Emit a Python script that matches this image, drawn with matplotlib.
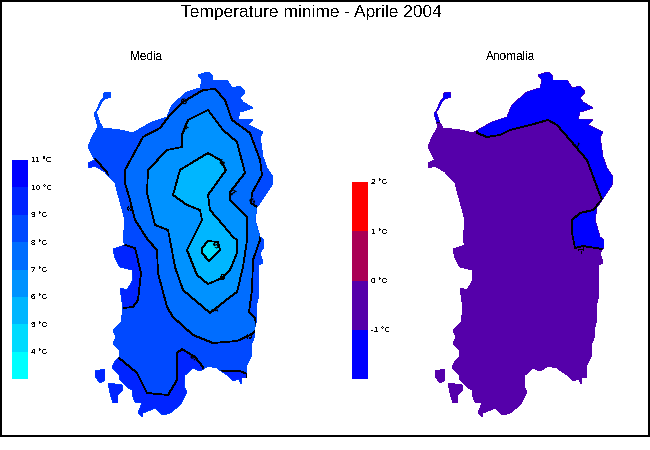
# Temperature minime - Aprile 2004, mappe della Sardegna
import matplotlib
matplotlib.use("Agg")
import matplotlib.pyplot as plt
from matplotlib.patches import PathPatch, Polygon
from matplotlib.path import Path

plt.rcParams['font.family'] = ['Liberation Sans', 'DejaVu Sans']
plt.rcParams['text.antialiased'] = False

# ---------- contorno dell'isola (pixel della mappa di sinistra) ----------
sardegna = [(198,75),(208,72),(212,75),(213,80),(227,80),(232,88),(240,86),(245,92),(240,98),(243,102),
            (253,108),(240,112),(238,119),(253,120),(248,125),(263,132),(260,137),(263,157),(267,168),(273,177),
            (272,185),(262,200),(257,207),(255,220),(260,237),(264,240),(264,247),(260,253),(263,263),(259,265),
            (259,295),(257,303),(257,318),(255,327),(255,335),(252,343),(252,355),(247,365),(247,378),(242,378),
            (241,384),(239,379),(233,381),(227,375),(217,368),(208,366),(200,371),(193,368),(185,375),(184,387),
            (187,392),(180,405),(170,413),(163,415),(155,408),(143,413),(143,417),(138,413),(142,403),(135,402),
            (133,397),(132,390),(127,387),(120,380),(119,375),(112,367),(116,360),(119,357),(119,350),(113,344),
            (116,337),(113,330),(121,322),(123,308),(120,288),(127,290),(133,280),(132,270),(120,267),(115,258),
            (113,249),(125,245),(123,240),(125,220),(115,183),(105,172),(95,166),(89,168),(88,163),(95,160),
            (88,147),(92,137),(98,127),(94,113),(98,110),(102,102),(105,99),(111,97),(110,92),(104,93),
            (103,98),(100,102),(96,112),(100,123),(103,128),(120,130),(133,133),(152,122),(167,117),(172,105),
            (187,92),(200,88),(202,80)]
san_pietro = [(95,371),(105,369),(105,380),(100,383),(95,376)]
sant_antioco = [(108,383),(122,385),(123,390),(118,395),(118,403),(113,403),(110,393)]

# ---------- media: isolinee ----------
iso_9_sud = [(118,357),(137,373),(147,393),(168,395),(177,380),(177,353),(182,349),(195,357),(203,367),
             (203,440),(85,440),(85,357)]
iso_9_ovest = [(125,245),(135,248),(141,273),(138,300),(133,307),(123,308),(100,308),(100,245)]
iso_9_nordovest = [(85,159),(95,159),(107,172),(110,185),(85,185)]
iso_9_sudest = [(220,371),(240,371),(247,374),(250,400),(215,400)]
iso_8 = [(125,170),(143,137),(160,128),(170,115),(183,102),(203,90),(215,89),(225,100),(232,120),(250,133),
         (260,160),(262,175),(252,193),(251,203),(257,207),(270,220),(260,237),(260,240),(253,260),(252,290),
         (249,312),(255,318),(257,330),(250,335),(237,341),(213,343),(193,335),(173,317),(167,307),(158,273),
         (157,250),(148,240),(135,220),(130,200),(125,183)]
iso_7 = [(182,135),(188,120),(208,110),(223,130),(237,142),(245,173),(230,192),(230,200),(247,217),(247,240),
         (243,267),(237,292),(230,297),(210,313),(183,290),(175,267),(170,240),(168,230),(155,225),(147,193),
         (148,170),(167,150),(182,147)]
iso_6 = [(208,153),(220,160),(226,170),(208,195),(210,210),(223,225),(233,237),(237,240),(237,253),(230,270),
         (222,278),(208,284),(197,275),(187,250),(192,240),(202,220),(200,210),(187,205),(173,195),(180,170),
         (193,162)]
iso_5 = [(202,248),(208,241),(218,242),(220,250),(209,261),(202,253)]

colori_media = ['#00FFFF','#00DBFF','#00B6FF','#0092FF','#006DFF','#0049FF','#0024FF','#0000FF']
livelli_media = [3, 4, 5, 6, 7, 8, 9, 10, 11]
etichette_media = [('8',185,101,45),('7',184,129,-30),('6',222,163,20),('7',232,193,-30),('8',253,202,30),
                   ('8',131,207,90),('5',217,246,30),('6',222,278,0),('7',213,309,-70),('8',250,335,90),('9',194,357,40)]

# ---------- anomalia: isolinee ----------
ano_nord = [(137,133),(147,137),(160,135),(170,130),(190,125),(208,120),(217,125),(230,140),(247,160),(257,187),
            (262,200),(253,210),(240,213),(232,220),(232,233),(235,248),(243,246),(262,249),(290,249),(290,50),(137,50)]
ano_asinara = [(85,85),(115,85),(115,122),(85,122)]
colori_anomalia = ['#0000FF','#5500AA','#AA0055','#FF0000']
livelli_anomalia = [-2, -1, 0, 1, 2]
etichette_anomalia = [('-1',236,146,-30),('-1',242,249,90)]


def disegna_mappa(sx, alto, base, zone, etichette):
    # sx, alto: pixel dell'angolo in alto a sinistra della finestra 200x380
    ax = fig.add_axes([sx/650, 1-(alto+380)/450, 200/650, 380/450])
    ax.set_xlim(80, 280)
    ax.set_ylim(440, 60)
    ax.axis('off')

    vertici = []
    codici = []
    for pezzo in [sardegna, san_pietro, sant_antioco]:
        vertici += pezzo + [pezzo[0]]
        codici += [Path.MOVETO] + [Path.LINETO]*(len(pezzo)-1) + [Path.CLOSEPOLY]
    isola = PathPatch(Path(vertici, codici), facecolor=base, edgecolor='none', antialiased=False)
    ax.add_patch(isola)

    for punti, colore in zone:
        p = Polygon(punti, closed=True, facecolor=colore, edgecolor='black', linewidth=0.55, antialiased=False)
        ax.add_patch(p)
        p.set_clip_path(isola)

    for testo, x, y, rot in etichette:
        ax.text(x, y, testo, fontsize=6.5, fontweight='bold', rotation=rot, ha='center', va='center',
                color='black', clip_on=False, zorder=5)
    return ax


def disegna_scala(rect, livelli, colori):
    ax = fig.add_axes([rect[0]/650, 1-rect[3]/450, (rect[2]-rect[0])/650, (rect[3]-rect[1])/450])
    for i in range(len(colori)):
        ax.bar(0, livelli[i+1]-livelli[i], bottom=livelli[i], width=1, color=colori[i], linewidth=0, antialiased=False)
    ax.set_xlim(-0.5, 0.5)
    ax.set_ylim(livelli[0], livelli[-1])
    ax.set_xticks([])
    ax.set_yticks(livelli[1:])
    ax.set_yticklabels(["%d °C" % v for v in livelli[1:]], fontsize=6)
    ax.yaxis.tick_right()
    ax.tick_params(axis='y', length=0, pad=2)
    for lato in ax.spines.values():
        lato.set_visible(False)
    return ax


fig = plt.figure(figsize=(6.5, 4.5), dpi=100, facecolor='white')

# cornice esterna
fig.add_artist(plt.Rectangle((0.5/650, 1-436/450), 648.5/650, 435.5/450, transform=fig.transFigure,
                             fill=False, edgecolor='black', linewidth=1.1, antialiased=False))

disegna_mappa(80, 60, colori_media[5],
              [(iso_9_sud, colori_media[6]), (iso_9_ovest, colori_media[6]), (iso_9_nordovest, colori_media[6]),
               (iso_9_sudest, colori_media[6]), (iso_8, colori_media[4]), (iso_7, colori_media[3]),
               (iso_6, colori_media[2]), (iso_5, colori_media[1])],
              etichette_media)
disegna_mappa(420, 60, colori_anomalia[1], [(ano_nord, colori_anomalia[0]), (ano_asinara, colori_anomalia[0])],
              etichette_anomalia)

disegna_scala((12, 160, 28, 379), livelli_media, colori_media)
disegna_scala((352, 182, 368, 379), livelli_anomalia, colori_anomalia)

fig.text(311/650, 1-12/450, "Temperature minime - Aprile 2004", fontsize=12.5, ha='center', va='center')
fig.text(146/650, 1-57/450, "Media", fontsize=8.5, ha='center', va='center')
fig.text(511/650, 1-57/450, "Anomalia", fontsize=8.5, ha='center', va='center')

fig.savefig("out.png", dpi=100)
